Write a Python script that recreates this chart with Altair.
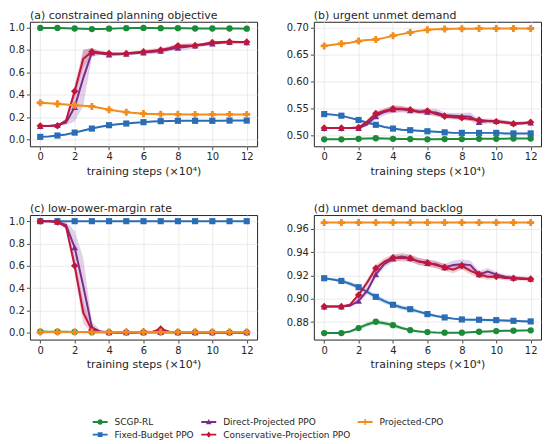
import altair as alt
import pandas as pd

STEPS = [0, 0.5, 1, 1.5, 2, 2.5, 3, 3.5, 4, 4.5, 5, 5.5, 6, 6.5, 7, 7.5, 8, 8.5, 9, 9.5, 10, 10.5, 11, 11.5, 12]
X_TICKS = [0, 2, 4, 6, 8, 10, 12]

SERIES = ["SCGP-RL", "Fixed-Budget PPO", "Direct-Projected PPO", "Conservative-Projection PPO", "Projected-CPO"]
COLORS = {"SCGP-RL": "#1b8a3a", "Fixed-Budget PPO": "#2a6db5", "Direct-Projected PPO": "#7b2d8f",
          "Conservative-Projection PPO": "#c0163a", "Projected-CPO": "#f28c1d"}

# ---- (a) constrained planning objective ----
A_SCGP = [0.995, 0.995, 0.995, 0.993, 0.990, 0.987, 0.985, 0.986, 0.988, 0.991, 0.993, 0.994, 0.995, 0.994, 0.993, 0.993, 0.993, 0.992, 0.990, 0.990, 0.990, 0.990, 0.990, 0.989, 0.988]
A_SCGP_SD = [0.003, 0.003, 0.003, 0.003, 0.003, 0.003, 0.003, 0.003, 0.003, 0.003, 0.003, 0.003, 0.003, 0.003, 0.003, 0.003, 0.003, 0.003, 0.003, 0.003, 0.003, 0.003, 0.003, 0.003, 0.003]
A_FIXED = [0.024, 0.028, 0.036, 0.046, 0.062, 0.080, 0.098, 0.114, 0.128, 0.137, 0.143, 0.150, 0.155, 0.160, 0.164, 0.166, 0.167, 0.167, 0.167, 0.167, 0.167, 0.168, 0.169, 0.169, 0.169]
A_FIXED_SD = [0.005, 0.005, 0.005, 0.005, 0.006, 0.006, 0.006, 0.006, 0.006, 0.005, 0.005, 0.005, 0.005, 0.005, 0.005, 0.005, 0.005, 0.005, 0.005, 0.005, 0.005, 0.005, 0.005, 0.005, 0.005]
A_DIRECT = [0.120, 0.120, 0.130, 0.150, 0.290, 0.550, 0.775, 0.768, 0.758, 0.760, 0.765, 0.770, 0.775, 0.782, 0.790, 0.805, 0.818, 0.828, 0.838, 0.845, 0.856, 0.862, 0.868, 0.868, 0.867]
A_DIRECT_SD = [0.010, 0.010, 0.010, 0.020, 0.130, 0.250, 0.040, 0.015, 0.015, 0.015, 0.015, 0.015, 0.015, 0.020, 0.020, 0.020, 0.020, 0.030, 0.020, 0.015, 0.015, 0.012, 0.010, 0.010, 0.010]
A_CONS = [0.122, 0.122, 0.122, 0.170, 0.430, 0.720, 0.783, 0.775, 0.768, 0.766, 0.768, 0.775, 0.783, 0.790, 0.798, 0.815, 0.836, 0.836, 0.839, 0.852, 0.866, 0.869, 0.872, 0.870, 0.869]
A_CONS_SD = [0.010, 0.010, 0.010, 0.020, 0.060, 0.080, 0.030, 0.015, 0.015, 0.012, 0.012, 0.012, 0.015, 0.020, 0.015, 0.020, 0.020, 0.015, 0.015, 0.012, 0.012, 0.010, 0.010, 0.010, 0.010]
A_PCPO = [0.328, 0.323, 0.318, 0.312, 0.306, 0.301, 0.295, 0.281, 0.266, 0.254, 0.244, 0.237, 0.231, 0.228, 0.226, 0.225, 0.225, 0.224, 0.224, 0.224, 0.224, 0.224, 0.224, 0.224, 0.224]
A_PCPO_SD = [0.004, 0.004, 0.004, 0.004, 0.004, 0.004, 0.004, 0.004, 0.004, 0.004, 0.004, 0.004, 0.004, 0.004, 0.004, 0.004, 0.004, 0.004, 0.004, 0.004, 0.004, 0.004, 0.004, 0.004, 0.004]

# ---- (b) urgent unmet demand ----
B_SCGP = [0.492, 0.492, 0.492, 0.4925, 0.493, 0.4935, 0.494, 0.4935, 0.493, 0.4928, 0.4925, 0.4922, 0.492, 0.4922, 0.4925, 0.4925, 0.4925, 0.4928, 0.493, 0.493, 0.493, 0.4932, 0.4935, 0.4935, 0.4935]
B_SCGP_SD = [0.0008, 0.0008, 0.0008, 0.0008, 0.0008, 0.0008, 0.0008, 0.0008, 0.0008, 0.0008, 0.0008, 0.0008, 0.0008, 0.0008, 0.0008, 0.0008, 0.0008, 0.0008, 0.0008, 0.0008, 0.0008, 0.0008, 0.0008, 0.0008, 0.0008]
B_FIXED = [0.539, 0.538, 0.536, 0.532, 0.528, 0.523, 0.519, 0.515, 0.512, 0.510, 0.509, 0.508, 0.507, 0.506, 0.505, 0.504, 0.504, 0.504, 0.504, 0.504, 0.504, 0.503, 0.503, 0.503, 0.503]
B_FIXED_SD = [0.0015, 0.0015, 0.0015, 0.0015, 0.0015, 0.0015, 0.0015, 0.0015, 0.0015, 0.0015, 0.0015, 0.0015, 0.0015, 0.0015, 0.0015, 0.0015, 0.0015, 0.0015, 0.0015, 0.0015, 0.0015, 0.0015, 0.0015, 0.0015, 0.0015]
B_DIRECT = [0.513, 0.513, 0.513, 0.513, 0.513, 0.520, 0.535, 0.543, 0.548, 0.548, 0.546, 0.544, 0.543, 0.542, 0.537, 0.536, 0.535, 0.534, 0.524, 0.526, 0.526, 0.524, 0.522, 0.522, 0.523]
B_DIRECT_SD = [0.002, 0.002, 0.002, 0.002, 0.002, 0.004, 0.006, 0.006, 0.007, 0.006, 0.005, 0.005, 0.006, 0.007, 0.005, 0.005, 0.006, 0.008, 0.005, 0.005, 0.004, 0.004, 0.003, 0.003, 0.003]
B_CONS = [0.513, 0.513, 0.513, 0.513, 0.514, 0.525, 0.540, 0.545, 0.549, 0.549, 0.547, 0.543, 0.545, 0.539, 0.535, 0.533, 0.532, 0.530, 0.528, 0.526, 0.525, 0.5235, 0.521, 0.522, 0.524]
B_CONS_SD = [0.002, 0.002, 0.002, 0.002, 0.002, 0.004, 0.005, 0.005, 0.006, 0.005, 0.004, 0.004, 0.005, 0.004, 0.004, 0.004, 0.004, 0.004, 0.003, 0.003, 0.003, 0.003, 0.003, 0.003, 0.003]
B_PCPO = [0.666, 0.668, 0.670, 0.672, 0.675, 0.677, 0.678, 0.681, 0.685, 0.688, 0.691, 0.694, 0.696, 0.697, 0.6975, 0.698, 0.698, 0.698, 0.6985, 0.6985, 0.6985, 0.6985, 0.6985, 0.6985, 0.6985]
B_PCPO_SD = [0.001, 0.001, 0.001, 0.001, 0.001, 0.001, 0.001, 0.001, 0.001, 0.001, 0.001, 0.001, 0.001, 0.001, 0.001, 0.001, 0.001, 0.001, 0.001, 0.001, 0.001, 0.001, 0.001, 0.001, 0.001]

# ---- (c) low-power-margin rate ----
C_SCGP = [0.012, 0.011, 0.010, 0.009, 0.008, 0.007, 0.006, 0.006, 0.005, 0.005, 0.005, 0.005, 0.005, 0.005, 0.005, 0.005, 0.005, 0.005, 0.005, 0.005, 0.005, 0.005, 0.005, 0.005, 0.005]
C_SCGP_SD = [0.002, 0.002, 0.002, 0.002, 0.002, 0.002, 0.002, 0.002, 0.002, 0.002, 0.002, 0.002, 0.002, 0.002, 0.002, 0.002, 0.002, 0.002, 0.002, 0.002, 0.002, 0.002, 0.002, 0.002, 0.002]
C_FIXED = [1.0, 1.0, 1.0, 1.0, 1.0, 1.0, 1.0, 1.0, 1.0, 1.0, 1.0, 1.0, 1.0, 1.0, 1.0, 1.0, 1.0, 1.0, 1.0, 1.0, 1.0, 1.0, 1.0, 1.0, 1.0]
C_FIXED_SD = [0.0, 0.0, 0.0, 0.0, 0.0, 0.0, 0.0, 0.0, 0.0, 0.0, 0.0, 0.0, 0.0, 0.0, 0.0, 0.0, 0.0, 0.0, 0.0, 0.0, 0.0, 0.0, 0.0, 0.0, 0.0]
C_DIRECT = [1.0, 1.0, 0.995, 0.965, 0.765, 0.420, 0.050, 0.012, 0.005, 0.004, 0.004, 0.004, 0.005, 0.005, 0.006, 0.005, 0.004, 0.004, 0.005, 0.004, 0.004, 0.004, 0.004, 0.004, 0.004]
C_DIRECT_SD = [0.0, 0.0, 0.005, 0.030, 0.150, 0.250, 0.050, 0.010, 0.004, 0.004, 0.004, 0.004, 0.005, 0.005, 0.006, 0.005, 0.004, 0.004, 0.005, 0.004, 0.004, 0.004, 0.004, 0.004, 0.004]
C_CONS = [1.0, 1.0, 0.993, 0.950, 0.600, 0.180, 0.025, 0.008, 0.005, 0.005, 0.008, 0.006, 0.010, 0.008, 0.035, 0.010, 0.006, 0.006, 0.008, 0.006, 0.005, 0.005, 0.005, 0.005, 0.005]
C_CONS_SD = [0.0, 0.0, 0.005, 0.020, 0.060, 0.100, 0.020, 0.005, 0.003, 0.004, 0.008, 0.008, 0.010, 0.008, 0.015, 0.008, 0.005, 0.005, 0.006, 0.005, 0.004, 0.003, 0.003, 0.003, 0.003]
C_PCPO = [0.007, 0.007, 0.007, 0.007, 0.007, 0.007, 0.007, 0.007, 0.007, 0.007, 0.007, 0.007, 0.007, 0.007, 0.007, 0.007, 0.007, 0.007, 0.007, 0.007, 0.007, 0.007, 0.007, 0.007, 0.007]
C_PCPO_SD = [0.002, 0.002, 0.002, 0.002, 0.002, 0.002, 0.002, 0.002, 0.002, 0.002, 0.002, 0.002, 0.002, 0.002, 0.002, 0.002, 0.002, 0.002, 0.002, 0.002, 0.002, 0.002, 0.002, 0.002, 0.002]

# ---- (d) unmet demand backlog ----
D_SCGP = [0.8706, 0.8706, 0.8706, 0.8720, 0.8749, 0.8780, 0.8803, 0.8790, 0.8774, 0.8750, 0.8731, 0.8720, 0.8714, 0.8710, 0.8709, 0.8709, 0.8709, 0.8713, 0.8717, 0.8720, 0.8723, 0.8725, 0.8726, 0.8728, 0.8729]
D_SCGP_SD = [0.0005, 0.0005, 0.0008, 0.0010, 0.0015, 0.0020, 0.0020, 0.0020, 0.0020, 0.0015, 0.0010, 0.0010, 0.0008, 0.0006, 0.0005, 0.0005, 0.0005, 0.0005, 0.0005, 0.0005, 0.0005, 0.0005, 0.0005, 0.0005, 0.0005]
D_FIXED = [0.9177, 0.9167, 0.9154, 0.9130, 0.9100, 0.9060, 0.9017, 0.8980, 0.8949, 0.8925, 0.8911, 0.8890, 0.8869, 0.8852, 0.8840, 0.8830, 0.8823, 0.8821, 0.8820, 0.8818, 0.8817, 0.8814, 0.8811, 0.8808, 0.8806]
D_FIXED_SD = [0.0010, 0.0010, 0.0015, 0.0020, 0.0020, 0.0020, 0.0025, 0.0020, 0.0020, 0.0020, 0.0020, 0.0015, 0.0015, 0.0010, 0.0010, 0.0010, 0.0010, 0.0010, 0.0010, 0.0010, 0.0010, 0.0010, 0.0010, 0.0010, 0.0010]
D_DIRECT = [0.8934, 0.8934, 0.8934, 0.8940, 0.8983, 0.9070, 0.9211, 0.9300, 0.9346, 0.9363, 0.9350, 0.9320, 0.9306, 0.9297, 0.9270, 0.9290, 0.9297, 0.9290, 0.9210, 0.9234, 0.9210, 0.9190, 0.9180, 0.9177, 0.9171]
D_DIRECT_SD = [0.0005, 0.0005, 0.0005, 0.0010, 0.0020, 0.0030, 0.0030, 0.0030, 0.0030, 0.0030, 0.0030, 0.0030, 0.0030, 0.0030, 0.0030, 0.0040, 0.0040, 0.0040, 0.0030, 0.0030, 0.0020, 0.0020, 0.0020, 0.0015, 0.0015]
D_CONS = [0.8934, 0.8934, 0.8934, 0.8950, 0.9034, 0.9140, 0.9263, 0.9320, 0.9354, 0.9350, 0.9349, 0.9320, 0.9311, 0.9290, 0.9271, 0.9250, 0.9283, 0.9240, 0.9211, 0.9190, 0.9191, 0.9180, 0.9177, 0.9170, 0.9171]
D_CONS_SD = [0.0005, 0.0005, 0.0005, 0.0010, 0.0020, 0.0030, 0.0030, 0.0030, 0.0030, 0.0030, 0.0030, 0.0030, 0.0030, 0.0030, 0.0030, 0.0030, 0.0030, 0.0030, 0.0030, 0.0025, 0.0020, 0.0020, 0.0020, 0.0015, 0.0015]
D_PCPO = [0.9655, 0.9655, 0.9655, 0.9655, 0.9655, 0.9655, 0.9655, 0.9655, 0.9655, 0.9655, 0.9655, 0.9655, 0.9655, 0.9655, 0.9655, 0.9655, 0.9655, 0.9655, 0.9655, 0.9655, 0.9655, 0.9655, 0.9655, 0.9655, 0.9655]
D_PCPO_SD = [0.0005, 0.0005, 0.0005, 0.0005, 0.0005, 0.0005, 0.0005, 0.0005, 0.0005, 0.0005, 0.0005, 0.0005, 0.0005, 0.0005, 0.0005, 0.0005, 0.0005, 0.0005, 0.0005, 0.0005, 0.0005, 0.0005, 0.0005, 0.0005, 0.0005]

SHAPES = {"SCGP-RL": "circle", "Fixed-Budget PPO": "square", "Direct-Projected PPO": "triangle-up",
          "Conservative-Projection PPO": "diamond", "Projected-CPO": "cross"}
SIZES = {"SCGP-RL": 40, "Fixed-Budget PPO": 38, "Direct-Projected PPO": 45,
         "Conservative-Projection PPO": 55, "Projected-CPO": 50}
LINE_BAR = "M-1,-0.12H1V0.12H-1Z"
LEGEND_PATHS = {
    "SCGP-RL": LINE_BAR + " M0.36,0A0.36,0.36,0,1,1,-0.36,0A0.36,0.36,0,1,1,0.36,0Z",
    "Fixed-Budget PPO": LINE_BAR + " M-0.32,-0.32H0.32V0.32H-0.32Z",
    "Direct-Projected PPO": LINE_BAR + " M0,-0.4L0.38,0.3H-0.38Z",
    "Conservative-Projection PPO": LINE_BAR + " M0,-0.42L0.32,0L0,0.42L-0.32,0Z",
    "Projected-CPO": LINE_BAR + " M-0.1,-0.4H0.1V-0.1H0.4V0.1H0.1V0.4H-0.1V0.1H-0.4V-0.1H-0.1Z",
}

PANELS = [
    ("(a) constrained planning objective", [(A_SCGP, A_SCGP_SD), (A_FIXED, A_FIXED_SD), (A_DIRECT, A_DIRECT_SD), (A_CONS, A_CONS_SD), (A_PCPO, A_PCPO_SD)],
     [-0.06, 1.05], [0.0, 0.2, 0.4, 0.6, 0.8, 1.0], ".1f"),
    ("(b) urgent unmet demand", [(B_SCGP, B_SCGP_SD), (B_FIXED, B_FIXED_SD), (B_DIRECT, B_DIRECT_SD), (B_CONS, B_CONS_SD), (B_PCPO, B_PCPO_SD)],
     [0.479, 0.711], [0.50, 0.55, 0.60, 0.65, 0.70], ".2f"),
    ("(c) low-power-margin rate", [(C_SCGP, C_SCGP_SD), (C_FIXED, C_FIXED_SD), (C_DIRECT, C_DIRECT_SD), (C_CONS, C_CONS_SD), (C_PCPO, C_PCPO_SD)],
     [-0.06, 1.055], [0.0, 0.2, 0.4, 0.6, 0.8, 1.0], ".1f"),
    ("(d) unmet demand backlog", [(D_SCGP, D_SCGP_SD), (D_FIXED, D_FIXED_SD), (D_DIRECT, D_DIRECT_SD), (D_CONS, D_CONS_SD), (D_PCPO, D_PCPO_SD)],
     [0.865, 0.972], [0.88, 0.90, 0.92, 0.94, 0.96], ".2f"),
]

PW, PH = 228, 125
TXT = "#262626"

# mark scales use a reversed domain order so they stay separate from the legend's scales
MARK_DOMAIN = SERIES[::-1]
fill_enc = alt.Fill("series:N", scale=alt.Scale(domain=MARK_DOMAIN, range=[COLORS[s] for s in MARK_DOMAIN]), legend=None)
stroke_enc = alt.Stroke("series:N", scale=alt.Scale(domain=MARK_DOMAIN, range=[COLORS[s] for s in MARK_DOMAIN]), legend=None)

LEG = alt.Legend(orient="none", legendX=63, legendY=394, columns=3, title=None,
                 symbolSize=225, symbolStrokeWidth=0, labelFontSize=9, labelFont="DejaVu Sans",
                 labelColor=TXT, labelOffset=7, columnPadding=7, rowPadding=-2)


def make_panel(title, series_data, ydom, yticks, yfmt, with_legend):
    rows = []
    for s, (mean, sd) in zip(SERIES, series_data):
        for x, v, e in zip(STEPS, mean, sd):
            rows.append({"x": x, "y": v, "lo": v - e, "hi": v + e, "series": s,
                         "mk": float(x).is_integer()})
    df = pd.DataFrame(rows)
    xenc = alt.X("x:Q", scale=alt.Scale(domain=[-0.6, 12.6], nice=False, zero=False),
                 axis=alt.Axis(values=X_TICKS, format="d", title="training steps (×10⁴)"))
    yscale = alt.Scale(domain=ydom, nice=False, zero=False)
    yaxis = alt.Axis(values=yticks, format=yfmt, title=None)
    base = alt.Chart()
    layers = []
    for s in SERIES:
        f = f"datum.series === '{s}'"
        layers.append(base.mark_area(opacity=0.22).encode(
            x=xenc, y=alt.Y("lo:Q", scale=yscale, axis=yaxis), y2="hi:Q", fill=fill_enc
        ).transform_filter(f))
        layers.append(base.mark_line(strokeWidth=2).encode(
            x=xenc, y=alt.Y("y:Q", scale=yscale, axis=yaxis), stroke=stroke_enc
        ).transform_filter(f))
        layers.append(base.mark_point(filled=True, opacity=1, shape=SHAPES[s], size=SIZES[s], strokeWidth=0).encode(
            x=xenc, y=alt.Y("y:Q", scale=yscale, axis=yaxis), fill=fill_enc
        ).transform_filter(f + " && datum.mk"))
    if with_legend:
        layers.append(base.mark_point(filled=True, opacity=1).encode(
            x=xenc, y=alt.Y("y:Q", scale=yscale, axis=yaxis),
            color=alt.Color("series:N", scale=alt.Scale(domain=SERIES, range=[COLORS[s] for s in SERIES]), legend=LEG),
            shape=alt.Shape("series:N", scale=alt.Scale(domain=SERIES, range=[LEGEND_PATHS[s] for s in SERIES]), legend=LEG),
        ).transform_filter("datum.x < -100"))
    return alt.layer(*layers, data=df).properties(
        width=PW, height=PH,
        title=alt.TitleParams(title, anchor="start", frame="group"))


charts = [make_panel(t, d, yd, yt, yf, i == 0) for i, (t, d, yd, yt, yf) in enumerate(PANELS)]

chart = alt.vconcat(
    alt.hconcat(charts[0], charts[1], spacing=27),
    alt.hconcat(charts[2], charts[3], spacing=27),
    spacing=25,
).properties(padding=0).configure(font="DejaVu Sans").configure_view(
    stroke=TXT, strokeWidth=1
).configure_axis(
    labelFontSize=10, titleFontSize=11, titleFontWeight="normal", labelColor=TXT, titleColor=TXT,
    tickColor=TXT, tickSize=3.5, tickWidth=0.8, domain=False, gridColor="#e6e6e6", gridWidth=0.8,
    labelPadding=2, titlePadding=4, labelFont="DejaVu Sans", titleFont="DejaVu Sans"
).configure_title(
    fontSize=11, fontWeight="normal", color=TXT, offset=1, font="DejaVu Sans"
)

chart.save("out.html", embed_options={"renderer": "svg", "actions": False})
